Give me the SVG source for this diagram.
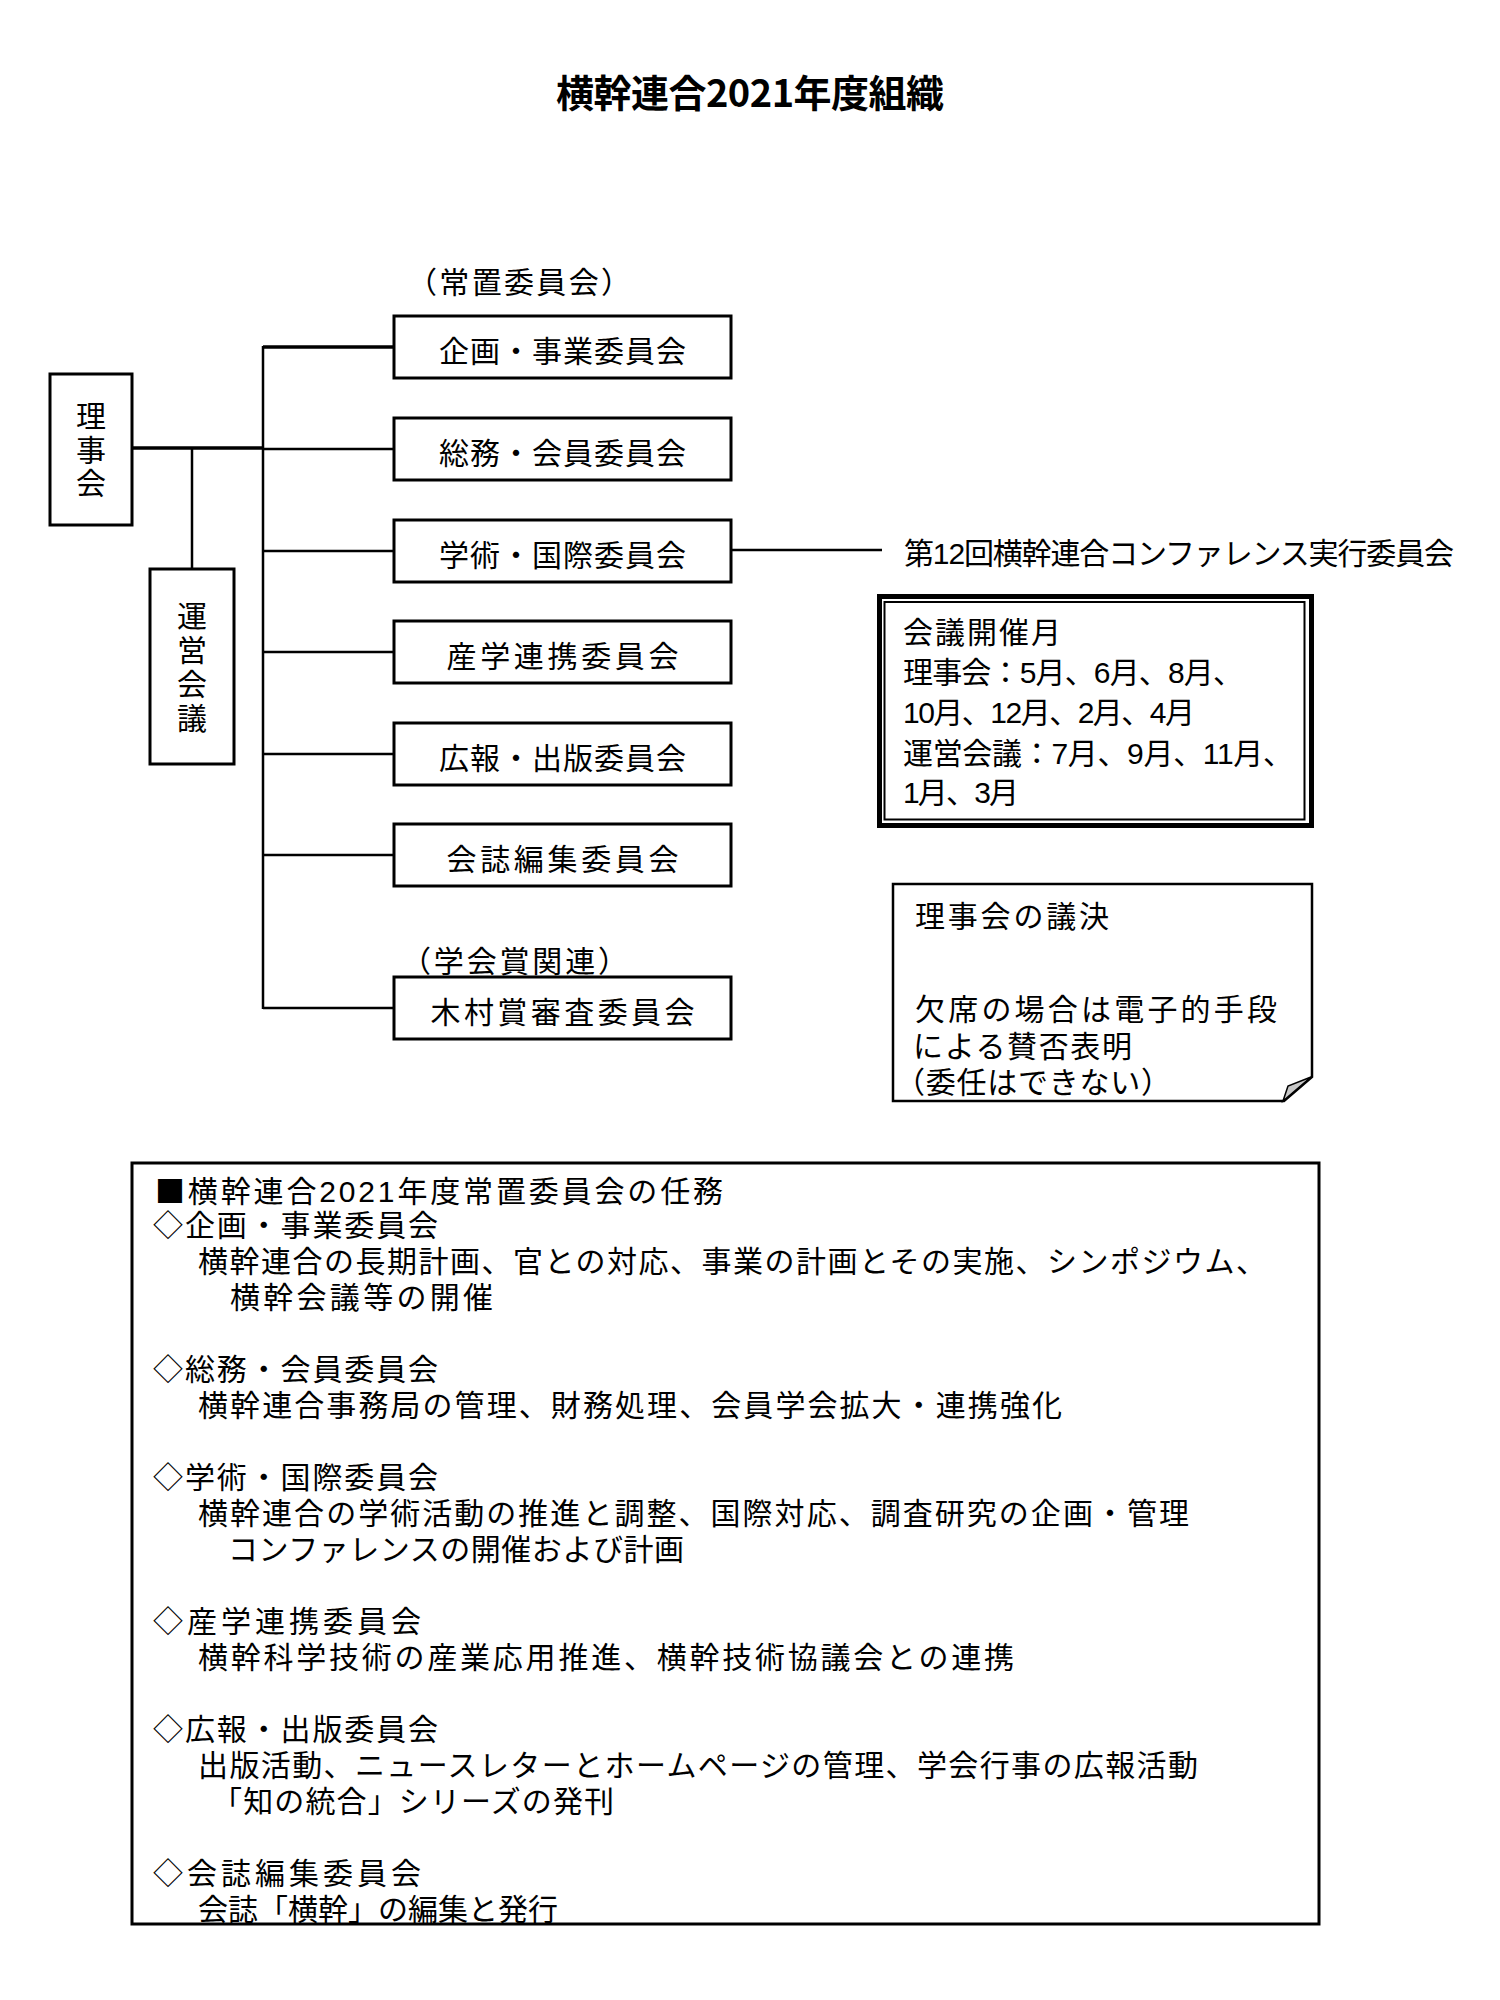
<svg xmlns="http://www.w3.org/2000/svg" width="1500" height="2000" viewBox="0 0 1500 2000">
<style>
.t{font-family:'Liberation Sans','Noto Sans CJK JP','Noto Sans CJK SC',sans-serif;font-size:30px;fill:#000}
.j{font-family:'Noto Sans CJK JP','Noto Sans CJK SC',sans-serif}
.c{text-anchor:middle}
.v{writing-mode:vertical-rl;font-family:'Noto Sans CJK JP','Noto Sans CJK SC',sans-serif;font-size:30px;fill:#000}
.box{fill:#fff;stroke:#000;stroke-width:3}
.ln{stroke:#000;stroke-width:2.5;fill:none}
.lnb{stroke:#000;stroke-width:3.5;fill:none}
</style>
<rect x="0" y="0" width="1500" height="2000" fill="#fff"/>
<g id="title">
<text class="t j c" x="750" y="107" style="font-size:38px;font-weight:bold" textLength="388">横幹連合2021年度組織</text>
</g>
<g id="connectors">
<line class="lnb" x1="132" y1="448" x2="264" y2="448"/>
<line class="ln" x1="263" y1="346" x2="263" y2="1009"/>
<line class="lnb" x1="263" y1="347" x2="394" y2="347"/>
<line class="ln" x1="263" y1="449" x2="394" y2="449"/>
<line class="ln" x1="263" y1="551" x2="394" y2="551"/>
<line class="ln" x1="263" y1="652" x2="394" y2="652"/>
<line class="ln" x1="263" y1="754" x2="394" y2="754"/>
<line class="ln" x1="263" y1="855" x2="394" y2="855"/>
<line class="ln" x1="263" y1="1008" x2="394" y2="1008"/>
<line class="ln" x1="192" y1="448" x2="192" y2="569"/>
<line class="ln" x1="731" y1="550" x2="882" y2="550"/>
</g>
<g id="rijikai">
<rect class="box" x="50" y="374" width="82" height="151"/>
<text class="v" x="91" y="401" letter-spacing="3.5">理事会</text>
</g>
<g id="uneikaigi">
<rect class="box" x="150" y="569" width="84" height="195"/>
<text class="v" x="192" y="601" letter-spacing="4">運営会議</text>
</g>
<g id="label-jochi">
<text class="t" x="407" y="293" textLength="224">（常置委員会）</text>
</g>
<g id="kikaku">
<rect class="box" x="394" y="316" width="337" height="62"/>
<text class="t c" x="562.5" y="362" textLength="247">企画・事業委員会</text>
</g>
<g id="somu">
<rect class="box" x="394" y="418" width="337" height="62"/>
<text class="t c" x="562.5" y="464" textLength="247">総務・会員委員会</text>
</g>
<g id="gakujutsu">
<rect class="box" x="394" y="520" width="337" height="62"/>
<text class="t c" x="562.5" y="566" textLength="247">学術・国際委員会</text>
</g>
<g id="sangaku">
<rect class="box" x="394" y="621" width="337" height="62"/>
<text class="t c" x="562.5" y="667" textLength="232">産学連携委員会</text>
</g>
<g id="koho">
<rect class="box" x="394" y="723" width="337" height="62"/>
<text class="t c" x="562.5" y="769" textLength="247">広報・出版委員会</text>
</g>
<g id="kaishi">
<rect class="box" x="394" y="824" width="337" height="62"/>
<text class="t c" x="562.5" y="870" textLength="232">会誌編集委員会</text>
</g>
<g id="label-gakkaisho">
<text class="t" x="401" y="972" textLength="227">（学会賞関連）</text>
</g>
<g id="kimura">
<rect class="box" x="394" y="977" width="337" height="62"/>
<text class="t c" x="562.5" y="1023" textLength="264">木村賞審査委員会</text>
</g>
<g id="conference">
<text class="t" x="904" y="564" textLength="550">第12回横幹連合コンファレンス実行委員会</text>
</g>
<g id="kaigi-kaisai">
<rect x="879.5" y="596.5" width="432" height="229" fill="#fff" stroke="#000" stroke-width="5"/>
<rect x="884.5" y="602" width="420" height="217.5" fill="none" stroke="#000" stroke-width="2"/>
<text class="t" x="903" y="643" textLength="158">会議開催月</text>
<text class="t" x="903" y="683" textLength="340">理事会：5月、6月、8月、</text>
<text class="t" x="903" y="723" textLength="292">10月、12月、2月、4月</text>
<text class="t" x="903" y="764" textLength="390">運営会議：7月、9月、11月、</text>
<text class="t" x="903" y="803" textLength="116">1月、3月</text>
</g>
<g id="giketsu">
<path d="M893 884 H1312 V1077 L1284 1101 H893 Z" fill="#fff" stroke="#000" stroke-width="2.5"/>
<path d="M1311 1077 L1288 1086 L1283 1101 Z" fill="#c8c8c8" stroke="#000" stroke-width="1.5"/>
<text class="t" x="915" y="927" textLength="194">理事会の議決</text>
<text class="t" x="915" y="1020" textLength="362">欠席の場合は電子的手段</text>
<text class="t" x="913" y="1057" textLength="219">による賛否表明</text>
<text class="t" x="895" y="1093" textLength="276">（委任はできない）</text>
</g>
<g id="ninmu">
<rect class="box" x="132" y="1163" width="1187" height="761"/>
<text class="t" x="155" y="1202" textLength="568"><tspan class="j">■</tspan>横幹連合2021年度常置委員会の任務</text>
<text class="t" x="153" y="1236" textLength="285">◇企画・事業委員会</text>
<text class="t" x="198" y="1272" textLength="1068">横幹連合の長期計画、官との対応、事業の計画とその実施、シンポジウム、</text>
<text class="t" x="230" y="1308" textLength="263">横幹会議等の開催</text>
<text class="t" x="153" y="1380" textLength="285">◇総務・会員委員会</text>
<text class="t" x="198" y="1416" textLength="864">横幹連合事務局の管理、財務処理、会員学会拡大・連携強化</text>
<text class="t" x="153" y="1488" textLength="285">◇学術・国際委員会</text>
<text class="t" x="198" y="1524" textLength="991">横幹連合の学術活動の推進と調整、国際対応、調査研究の企画・管理</text>
<text class="t" x="228" y="1560" textLength="456">コンファレンスの開催および計画</text>
<text class="t" x="153" y="1632" textLength="268">◇産学連携委員会</text>
<text class="t" x="198" y="1668" textLength="816">横幹科学技術の産業応用推進、横幹技術協議会との連携</text>
<text class="t" x="153" y="1740" textLength="285">◇広報・出版委員会</text>
<text class="t" x="198" y="1776" textLength="1000">出版活動、ニュースレターとホームページの管理、学会行事の広報活動</text>
<text class="t" x="212" y="1812" textLength="402">「知の統合」シリーズの発刊</text>
<text class="t" x="153" y="1884" textLength="268">◇会誌編集委員会</text>
<text class="t" x="198" y="1920" textLength="360">会誌「横幹」の編集と発行</text>
</g>
</svg>
